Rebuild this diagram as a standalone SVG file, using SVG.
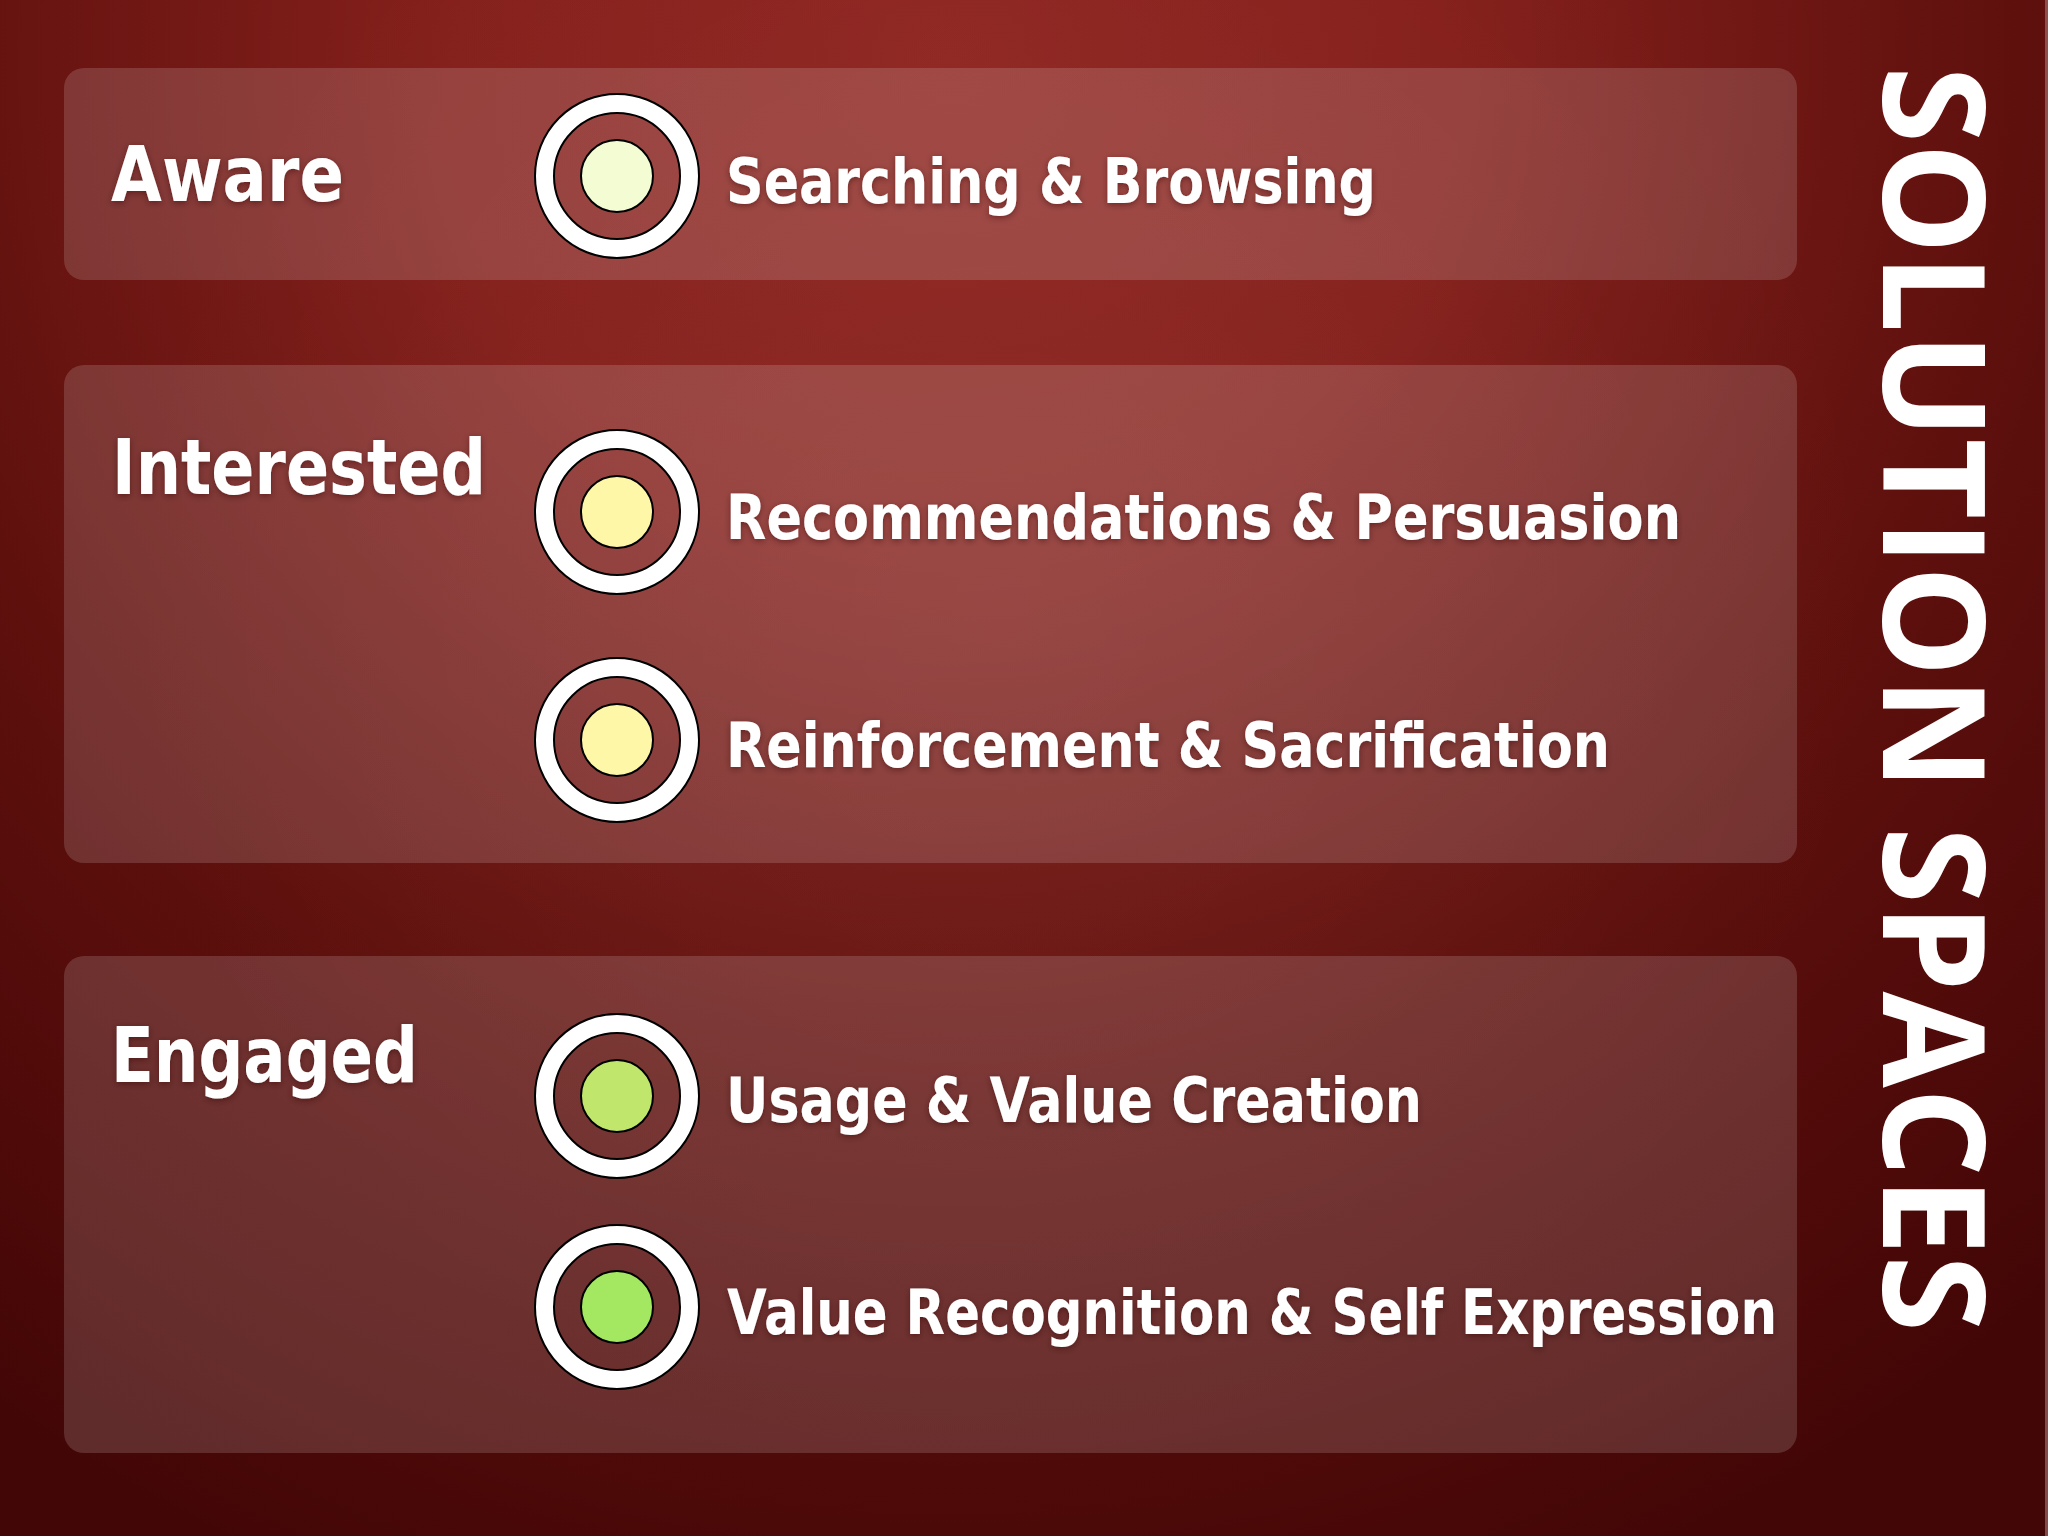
<svg xmlns="http://www.w3.org/2000/svg" width="2048" height="1536" viewBox="0 0 2048 1536">
  <defs>
    <radialGradient id="bg" cx="950" cy="60" r="1650" gradientUnits="userSpaceOnUse">
      <stop offset="0" stop-color="#8f2621"/>
      <stop offset="0.3" stop-color="#85201c"/>
      <stop offset="0.65" stop-color="#5e100d"/>
      <stop offset="1" stop-color="#430606"/>
    </radialGradient>
    <radialGradient id="glow" cx="1000" cy="600" r="900" gradientUnits="userSpaceOnUse">
      <stop offset="0" stop-color="#ffffff" stop-opacity="0.04"/>
      <stop offset="1" stop-color="#ffffff" stop-opacity="0"/>
    </radialGradient>
    <filter id="shadow" x="-10%" y="-30%" width="120%" height="160%">
      <feDropShadow dx="0" dy="2" stdDeviation="3" flood-color="#2a0000" flood-opacity="0.45"/>
    </filter>
    <path id="ring" d="M -82 0 A 82 82 0 1 0 82 0 A 82 82 0 1 0 -82 0 Z M -63 0 A 63 63 0 1 1 63 0 A 63 63 0 1 1 -63 0 Z"/>
  </defs>
  <style>
    .panel { fill: #ffffff; fill-opacity: 0.15; }
    .ring { fill: #ffffff; fill-rule: evenodd; stroke: #000000; stroke-width: 2; }
    .dot { stroke: #000000; stroke-width: 2; }
    .cat { font-family: "DejaVu Sans", "Liberation Sans", sans-serif; font-weight: bold; font-size: 77px; fill: #ffffff; filter: url(#shadow); }
    .item { font-family: "DejaVu Sans", "Liberation Sans", sans-serif; font-weight: bold; font-size: 62px; fill: #ffffff; filter: url(#shadow); }
    .title { font-family: "Open Sans", "Liberation Sans", sans-serif; font-weight: bold; font-size: 142px; fill: #ffffff; }
  </style>

  <rect x="0" y="0" width="2048" height="1536" fill="url(#bg)"/>
  <rect x="0" y="0" width="2048" height="1536" fill="url(#glow)"/>
  <rect x="2045" y="0" width="3" height="1536" fill="#b07878" fill-opacity="0.6"/>

  <g id="panel-aware">
    <rect class="panel" x="64" y="68" width="1733" height="212" rx="20"/>
    <text class="cat" x="111" y="201" textLength="233" lengthAdjust="spacingAndGlyphs">Aware</text>
  </g>
  <g id="panel-interested">
    <rect class="panel" x="64" y="365" width="1733" height="498" rx="20"/>
    <text class="cat" x="112" y="494" textLength="374" lengthAdjust="spacingAndGlyphs">Interested</text>
  </g>
  <g id="panel-engaged">
    <rect class="panel" x="64" y="956" width="1733" height="497" rx="20"/>
    <text class="cat" x="111" y="1082" textLength="307" lengthAdjust="spacingAndGlyphs">Engaged</text>
  </g>

  <g id="node-searching">
    <use href="#ring" class="ring" x="617" y="176"/>
    <circle class="dot" cx="617" cy="176" r="36" fill="#f4fcd4"/>
    <text class="item" x="726" y="203" textLength="650" lengthAdjust="spacingAndGlyphs">Searching &amp; Browsing</text>
  </g>
  <g id="node-recommendations">
    <use href="#ring" class="ring" x="617" y="512"/>
    <circle class="dot" cx="617" cy="512" r="36" fill="#fff7a8"/>
    <text class="item" x="726" y="539" textLength="955" lengthAdjust="spacingAndGlyphs">Recommendations &amp; Persuasion</text>
  </g>
  <g id="node-reinforcement">
    <use href="#ring" class="ring" x="617" y="740"/>
    <circle class="dot" cx="617" cy="740" r="36" fill="#fff7a8"/>
    <text class="item" x="726" y="767" textLength="884" lengthAdjust="spacingAndGlyphs">Reinforcement &amp; Sacrification</text>
  </g>
  <g id="node-usage">
    <use href="#ring" class="ring" x="617" y="1096"/>
    <circle class="dot" cx="617" cy="1096" r="36" fill="#c0e66c"/>
    <text class="item" x="726" y="1122" textLength="696" lengthAdjust="spacingAndGlyphs">Usage &amp; Value Creation</text>
  </g>
  <g id="node-value-recognition">
    <use href="#ring" class="ring" x="617" y="1307"/>
    <circle class="dot" cx="617" cy="1307" r="36" fill="#a4e862"/>
    <text class="item" x="727" y="1334" textLength="1050" lengthAdjust="spacingAndGlyphs">Value Recognition &amp; Self Expression</text>
  </g>

  <g id="connectors"></g>

  <g id="title">
    <text class="title" transform="translate(1883,66) rotate(90)" x="0" y="0" textLength="1266" lengthAdjust="spacingAndGlyphs">SOLUTION SPACES</text>
  </g>
</svg>
